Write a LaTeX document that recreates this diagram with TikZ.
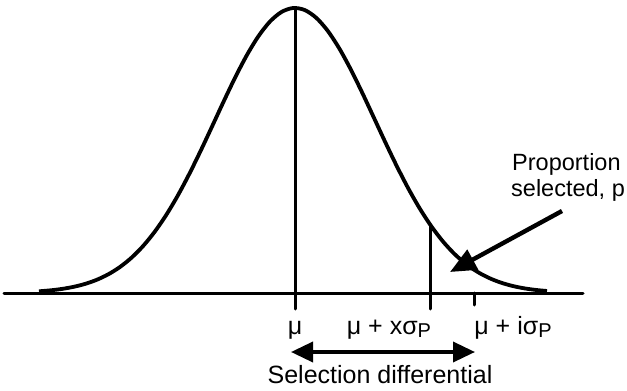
\documentclass[tikz,border=0pt]{standalone}
\usepackage{fontspec}
\setmainfont{Liberation Sans}
\usetikzlibrary{arrows.meta}
\tikzset{
  ln/.style={line width=3pt, line cap=round},
  lbl/.style={inner sep=0pt, font=\fontsize{25}{29}\selectfont},
  lblr/.style={inner sep=0pt, font=\fontsize{23.5}{27}\selectfont},
  bigarrow/.style={line width=4.4pt, -{Triangle[length=26pt,width=22pt]}},
  dblarrow/.style={line width=3.6pt, {Triangle[length=22pt,width=20pt]}-{Triangle[length=22pt,width=20pt]}},
}
\newcommand{\subP}{\raisebox{-0.15em}{\fontsize{20}{22}\selectfont P}}
\begin{document}
\begin{tikzpicture}[x=1pt,y=-1pt]
\useasboundingbox (0,0) rectangle (627,391);
% axis
\coordinate (ax0) at (4,293);
\coordinate (ax1) at (583,293);
\draw[ln] (ax0) -- (ax1);
% curve
\draw[line width=3.8pt, line join=round] plot[domain=-3.2:3.15, samples=45, smooth] ({295+80*\x},{293-285*exp(-\x*\x/2)});
% verticals
\coordinate (m0) at (295,8);
\coordinate (m1) at (295,309);
\draw[ln] (m0) -- (m1);
\coordinate (c0) at (430,{293-285*exp(-(135/80)*(135/80)/2)});
\coordinate (c1) at (430,309);
\draw[ln] (c0) -- (c1);
\coordinate (t0) at (474,293);
\coordinate (t1) at (474,305);
\draw[ln] (t0) -- (t1);
% labels under axis
\node[lbl, anchor=base] (mu) at (295,334) {μ};
\node[lbl, anchor=base] (mux) at (389,334) {μ + xσ\subP};
\node[lbl, anchor=base] (mui) at (513,334) {μ + iσ\subP};
% selection differential
\coordinate (d0) at (291,352);
\coordinate (d1) at (475,352);
\draw[dblarrow] (d0) -- (d1);
\node[lbl, anchor=base] (sel) at (380,383) {Selection differential};
% proportion label
\node[lblr, anchor=base west] (prop) at (512,170) {Proportion};
\node[lblr, anchor=base west] (selp) at (511,196) {selected, p};
\coordinate (a0) at (562,211);
\coordinate (a1) at (450,272);
\draw[bigarrow] (a0) -- (a1);
\end{tikzpicture}
\end{document}
